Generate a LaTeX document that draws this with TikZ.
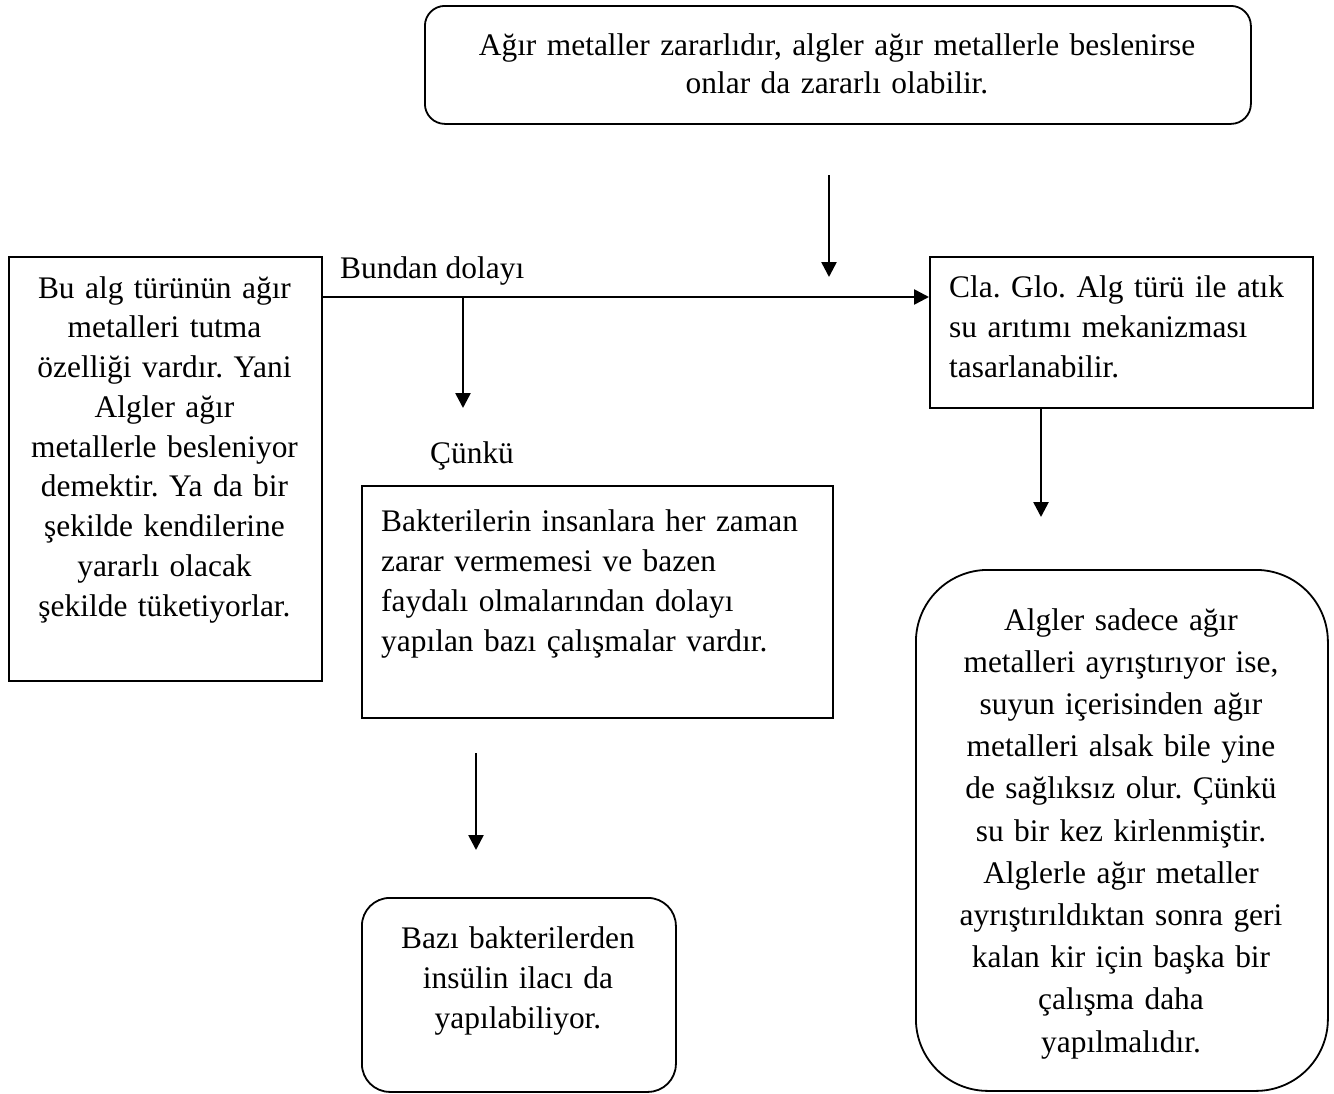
\documentclass[tikz,border=0pt]{standalone}
\usepackage{fontspec}
\setmainfont{Liberation Serif}
\usetikzlibrary{arrows.meta}
\begin{document}
\frenchspacing
\begin{tikzpicture}[x=1pt,y=-1pt,
  box/.style={draw, line width=1.8pt, inner sep=0pt, anchor=north west},
  flow/.style={line width=2.6pt, -{Triangle[width=15pt,length=15pt]}},
  txt/.style={inner sep=0pt, font=\fontsize{31.4}{#1}\selectfont\frenchspacing},
  txt/.default=40,
  ]
\useasboundingbox (0,0) rectangle (1334,1093);

% frames
\node[box, rounded corners=20pt, minimum width=826pt, minimum height=118pt] (topbox) at (424,5) {};
\node[box, minimum width=313pt, minimum height=424pt] (lbox) at (8,256) {};
\node[box, minimum width=471pt, minimum height=232pt] (midbox) at (361,485) {};
\node[box, rounded corners=28pt, minimum width=314pt, minimum height=194pt] (botbox) at (361,897) {};
\node[box, minimum width=383pt, minimum height=151pt] (clabox) at (929,256) {};
\node[box, rounded corners=72pt, minimum width=412pt, minimum height=521pt] (rbox) at (915,569) {};

% texts
\node[txt=38, text width=826pt, align=center, anchor=base] (toptext) at (837,55)
  {Ağır metaller zararlıdır, algler ağır metallerle beslenirse\\ onlar da zararlı olabilir.};
\node[txt=39.75, text width=313pt, align=center, anchor=base] (ltext) at (164.5,298)
  {Bu alg türünün ağır\\ metalleri tutma\\ özelliği vardır. Yani\\ Algler ağır\\ metallerle besleniyor\\ demektir. Ya da bir\\ şekilde kendilerine\\ yararlı olacak\\ şekilde tüketiyorlar.};
\node[txt, anchor=base west] (bundan) at (340,278) {Bundan dolayı};
\node[txt, anchor=base west] (cunku) at (430,463) {Çünkü};
\node[txt=40, text width=440pt, align=left, anchor=base west] (midtext) at (381,531)
  {Bakterilerin insanlara her zaman\\ zarar vermemesi ve bazen\\ faydalı olmalarından dolayı\\ yapılan bazı çalışmalar vardır.};
\node[txt=40, text width=314pt, align=center, anchor=base] (bottext) at (518,948)
  {Bazı bakterilerden\\ insülin ilacı da\\ yapılabiliyor.};
\node[txt=40, text width=360pt, align=left, anchor=base west] (clatext) at (949,297)
  {Cla. Glo. Alg türü ile atık\\ su arıtımı mekanizması\\ tasarlanabilir.};
\node[txt=42.2, text width=412pt, align=center, anchor=base] (rtext) at (1121,630)
  {Algler sadece ağır\\ metalleri ayrıştırıyor ise,\\ suyun içerisinden ağır\\ metalleri alsak bile yine\\ de sağlıksız olur. Çünkü\\ su bir kez kirlenmiştir.\\ Alglerle ağır metaller\\ ayrıştırıldıktan sonra geri\\ kalan kir için başka bir\\ çalışma daha\\ yapılmalıdır.};

% connectors
\coordinate (fall) at (829,175);
\coordinate (fallend) at (829,277);
\draw[flow] (fall) -- (fallend);

\coordinate (split) at (463,297);
\coordinate (splitend) at (463,408);
\draw[flow] (lbox.east |- split) -- (clabox.west |- split);
\draw[flow] (split) -- (splitend);

\coordinate (midarrow) at (476,753);
\coordinate (midarrowend) at (476,850);
\draw[flow] (midarrow) -- (midarrowend);

\coordinate (claend) at (1041,517);
\draw[flow] (clabox.south -| claend) -- (claend);
\end{tikzpicture}
\end{document}
